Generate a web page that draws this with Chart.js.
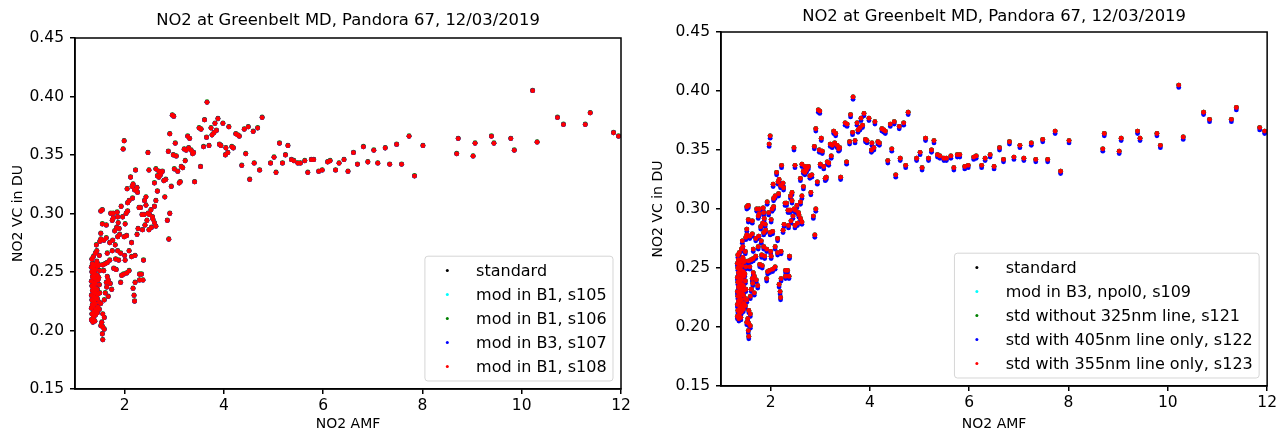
<!DOCTYPE html>
<html>
<head>
<meta charset="utf-8">
<script src="https://cdn.jsdelivr.net/npm/chart.js@4/dist/chart.umd.min.js"></script>
<style>
  body { margin: 0; background: #fff; }
  .plot { position: absolute; top: 0; width: 640px; height: 437px; }
</style>
</head>
<body>
<div class="plot" style="left:0"><canvas id="leftChart" width="640" height="437"></canvas></div>
<div class="plot" style="left:640px"><canvas id="rightChart" width="640" height="437"></canvas></div>
<script>
// ===================================================== DATA ===================================================== //

const title = "NO2 at Greenbelt MD, Pandora 67, 12/03/2019";
const xTicks = [2, 4, 6, 8, 10, 12];
const yTicks = [0.15, 0.20, 0.25, 0.30, 0.35, 0.40, 0.45];

const leftLabels  = ["standard", "mod in B1, s105", "mod in B1, s106", "mod in B3, s107", "mod in B1, s108"];
const rightLabels = ["standard", "mod in B3, npol0, s109", "std without 325nm line, s121",
                     "std with 405nm line only, s122", "std with 355nm line only, s123"];
const colors = ["#000000", "#00ffff", "#008000", "#0000ff", "#ff0000"];

// NO2 air mass factor (x) for every measurement
const amf = [
  10.22, 10.72, 10.84, 11.28, 11.38, 11.85, 11.95, 10.31, 9.85, 9.78,
  9.44, 9.39, 9.06, 9.02, 8.72, 8.69, 8.01, 7.84, 7.73, 7.58,
  7.48, 7.34, 7.25, 7.10, 7.02, 6.90, 6.81, 6.69, 6.61, 6.50,
  6.42, 6.32, 6.25, 6.14, 6.09, 5.98, 5.91, 5.81, 5.76, 5.69,
  5.63, 5.54, 5.49, 5.41, 5.36, 5.24, 5.29, 5.18, 5.12, 5.05,
  5.01, 4.94, 4.77, 4.72, 4.68, 4.61, 4.59, 4.52, 4.49, 4.44,
  4.41, 4.36, 4.31, 4.28, 4.24, 4.19, 4.16, 4.10, 4.08, 4.03,
  4.04, 3.98, 3.94, 3.91, 3.88, 3.85, 3.82, 3.80, 3.76, 3.74,
  3.70, 3.66, 3.65, 3.61, 3.59, 3.54, 3.50, 3.53, 3.41, 3.39,
  3.37, 3.34, 3.31, 3.27, 3.29, 3.24, 3.22, 3.20, 3.17, 3.14,
  3.10, 3.12, 3.07, 3.04, 3.02, 3.00, 2.98, 2.96, 2.99, 2.94,
  2.91, 2.91, 2.88, 2.89, 2.86, 2.81, 2.83, 2.79, 2.76, 2.72,
  2.74, 2.69, 2.63, 2.66, 2.69, 2.60, 2.66, 2.63, 2.60, 2.60,
  2.63, 2.57, 2.56, 2.54, 2.49, 2.47, 2.53, 2.50, 2.47, 2.45,
  2.49, 2.43, 2.40, 2.43, 2.39, 2.41, 2.35, 2.36, 2.32, 2.29,
  2.22, 2.25, 2.26, 2.20, 2.17, 2.15, 2.12, 2.16, 2.09, 2.06,
  2.05, 2.06, 2.03, 1.99, 1.97, 1.93, 1.96, 2.01, 2.04, 2.14,
  2.09, 2.14, 2.25, 2.27, 2.21, 2.38, 2.09, 2.04, 1.98, 1.94,
  1.92, 2.30, 2.34, 2.30, 2.37, 2.21, 2.17, 2.19, 2.20, 2.01,
  2.00, 1.99, 1.55, 1.52, 1.55, 1.63, 1.52, 1.63, 1.52, 1.58,
  1.50, 1.43, 1.44, 1.41, 1.49, 1.72, 1.77, 1.77, 1.85, 1.86,
  1.75, 1.87, 1.84, 1.89, 1.80, 1.86, 1.90, 1.76, 1.70, 1.81,
  1.75, 1.86, 1.92, 1.65, 1.70, 1.82, 1.88, 1.65, 1.78, 1.83,
  1.56, 1.61, 1.58, 1.65, 1.67, 1.63, 1.71, 1.64, 1.74, 1.61,
  1.67, 1.59, 1.52, 1.56, 1.59, 1.54, 1.56, 1.59, 1.55, 1.56, 1.52, 1.49,
  1.33, 1.34, 1.33, 1.35, 1.34, 1.33, 1.35, 1.34, 1.33, 1.35, 1.34, 1.33, 1.35, 1.34,
  1.37, 1.38, 1.37, 1.38, 1.37, 1.38, 1.37, 1.38, 1.37, 1.38, 1.37, 1.38, 1.37,
  1.41, 1.42, 1.41, 1.42, 1.41, 1.42, 1.41, 1.42, 1.41, 1.42, 1.41,
  1.45, 1.46, 1.45, 1.46, 1.45, 1.46, 1.45, 1.46, 1.44,
  1.49, 1.50, 1.49, 1.48, 1.50, 1.48, 1.36, 1.40
];

// NO2 vertical column in DU, standard processing (the other runs sit on top of it)
const vcStd = [
  0.405, 0.382, 0.376, 0.376, 0.386, 0.369, 0.366, 0.361, 0.354, 0.364,
  0.360, 0.366, 0.360, 0.349, 0.364, 0.351, 0.358, 0.332, 0.366, 0.342,
  0.359, 0.342, 0.356, 0.343, 0.354, 0.344, 0.357, 0.342, 0.352, 0.336,
  0.346, 0.343, 0.337, 0.345, 0.344, 0.337, 0.336, 0.346, 0.346, 0.335,
  0.345, 0.343, 0.343, 0.345, 0.346, 0.350, 0.358, 0.343, 0.360, 0.335,
  0.348, 0.343, 0.382, 0.337, 0.373, 0.343, 0.370, 0.329, 0.374, 0.351,
  0.372, 0.341, 0.366, 0.367, 0.368, 0.356, 0.357, 0.374, 0.352, 0.350,
  0.356, 0.377, 0.358, 0.359, 0.381, 0.371, 0.377, 0.369, 0.367, 0.373,
  0.358, 0.395, 0.365, 0.380, 0.357, 0.372, 0.373, 0.340, 0.327, 0.352,
  0.351, 0.354, 0.364, 0.366, 0.356, 0.354, 0.345, 0.355, 0.339, 0.340,
  0.326, 0.327, 0.336, 0.349, 0.360, 0.338, 0.350, 0.384, 0.383, 0.323,
  0.300, 0.368, 0.353, 0.278, 0.294, 0.314, 0.329, 0.328, 0.336, 0.333,
  0.335, 0.336, 0.338, 0.332, 0.331, 0.326, 0.319, 0.311, 0.306, 0.292,
  0.289, 0.295, 0.297, 0.288, 0.337, 0.352, 0.303, 0.299, 0.300, 0.294,
  0.286, 0.314, 0.311, 0.307, 0.299, 0.290, 0.299, 0.286, 0.305, 0.305,
  0.337, 0.322, 0.318, 0.320, 0.325, 0.323, 0.331, 0.313, 0.311, 0.309,
  0.321, 0.302, 0.300, 0.362, 0.355, 0.306, 0.297, 0.291, 0.281, 0.275,
  0.268, 0.263, 0.282, 0.287, 0.264, 0.260, 0.251, 0.249, 0.248, 0.247,
  0.241, 0.248, 0.248, 0.243, 0.243, 0.241, 0.236, 0.230, 0.225, 0.260,
  0.264, 0.280, 0.303, 0.302, 0.291, 0.290, 0.283, 0.279, 0.278, 0.277,
  0.276, 0.273, 0.268, 0.266, 0.264, 0.300, 0.300, 0.296, 0.301, 0.297,
  0.294, 0.292, 0.288, 0.287, 0.285, 0.280, 0.282, 0.277, 0.275, 0.273,
  0.268, 0.268, 0.266, 0.266, 0.260, 0.261, 0.260, 0.258, 0.253, 0.252,
  0.256, 0.257, 0.251, 0.246, 0.243, 0.241, 0.240, 0.237, 0.235, 0.232,
  0.229, 0.226, 0.223, 0.214, 0.211, 0.207, 0.203, 0.201, 0.197, 0.192, 0.204, 0.218,
  0.209, 0.214, 0.219, 0.222, 0.226, 0.230, 0.234, 0.238, 0.242, 0.246, 0.250, 0.254, 0.257, 0.261,
  0.211, 0.216, 0.221, 0.225, 0.229, 0.233, 0.237, 0.241, 0.245, 0.249, 0.253, 0.256, 0.263,
  0.213, 0.218, 0.223, 0.228, 0.232, 0.236, 0.240, 0.244, 0.248, 0.252, 0.256,
  0.215, 0.220, 0.227, 0.231, 0.235, 0.243, 0.247, 0.255, 0.259,
  0.224, 0.232, 0.239, 0.245, 0.251, 0.256, 0.207, 0.208
];

// s106 (left, green) reads a hair above the standard
const vcS106 = [
  0.4055, 0.3825, 0.3765, 0.3765, 0.3865, 0.3695, 0.3665, 0.3615, 0.3545, 0.3645,
  0.3605, 0.3665, 0.3605, 0.3495, 0.3645, 0.3515, 0.3585, 0.3325, 0.3665, 0.3425,
  0.3595, 0.3425, 0.3565, 0.3435, 0.3545, 0.3445, 0.3575, 0.3425, 0.3525, 0.3365,
  0.3465, 0.3435, 0.3375, 0.3455, 0.3445, 0.3375, 0.3365, 0.3465, 0.3465, 0.3355,
  0.3455, 0.3435, 0.3435, 0.3455, 0.3465, 0.3505, 0.3585, 0.3435, 0.3605, 0.3355,
  0.3485, 0.3435, 0.3825, 0.3375, 0.3735, 0.3435, 0.3705, 0.3295, 0.3745, 0.3515,
  0.3725, 0.3415, 0.3665, 0.3675, 0.3685, 0.3565, 0.3575, 0.3745, 0.3525, 0.3505,
  0.3565, 0.3775, 0.3585, 0.3595, 0.3815, 0.3715, 0.3775, 0.3695, 0.3675, 0.3735,
  0.3585, 0.3955, 0.3655, 0.3805, 0.3575, 0.3725, 0.3735, 0.3405, 0.3275, 0.3525,
  0.3515, 0.3545, 0.3645, 0.3665, 0.3565, 0.3545, 0.3455, 0.3555, 0.3395, 0.3405,
  0.3265, 0.3275, 0.3365, 0.3495, 0.3605, 0.3385, 0.3505, 0.3845, 0.3835, 0.3235,
  0.3005, 0.3685, 0.3535, 0.2785, 0.2945, 0.3145, 0.3295, 0.3285, 0.3365, 0.3335,
  0.3355, 0.3365, 0.3385, 0.3325, 0.3315, 0.3265, 0.3195, 0.3115, 0.3065, 0.2925,
  0.2895, 0.2955, 0.2975, 0.2885, 0.3375, 0.3525, 0.3035, 0.2995, 0.3005, 0.2945,
  0.2865, 0.3145, 0.3115, 0.3075, 0.2995, 0.2905, 0.2995, 0.2865, 0.3055, 0.3055,
  0.3375, 0.3225, 0.3185, 0.3205, 0.3255, 0.3235, 0.3315, 0.3135, 0.3115, 0.3095,
  0.3215, 0.3025, 0.3005, 0.3625, 0.3555, 0.3065, 0.2975, 0.2915, 0.2815, 0.2755,
  0.2685, 0.2635, 0.2825, 0.2875, 0.2645, 0.2605, 0.2515, 0.2495, 0.2485, 0.2475,
  0.2415, 0.2485, 0.2485, 0.2435, 0.2435, 0.2415, 0.2365, 0.2305, 0.2255, 0.2605,
  0.2645, 0.2805, 0.3035, 0.3025, 0.2915, 0.2905, 0.2835, 0.2795, 0.2785, 0.2775,
  0.2765, 0.2735, 0.2685, 0.2665, 0.2645, 0.3005, 0.3005, 0.2965, 0.3015, 0.2975,
  0.2945, 0.2925, 0.2885, 0.2875, 0.2855, 0.2805, 0.2825, 0.2775, 0.2755, 0.2735,
  0.2685, 0.2685, 0.2665, 0.2665, 0.2605, 0.2615, 0.2605, 0.2585, 0.2535, 0.2525,
  0.2565, 0.2575, 0.2515, 0.2465, 0.2435, 0.2415, 0.2405, 0.2375, 0.2355, 0.2325,
  0.2295, 0.2265, 0.2235, 0.2145, 0.2115, 0.2075, 0.2035, 0.2015, 0.1975, 0.1925, 0.2045, 0.2185,
  0.2095, 0.2145, 0.2195, 0.2225, 0.2265, 0.2305, 0.2345, 0.2385, 0.2425, 0.2465, 0.2505, 0.2545, 0.2575, 0.2615,
  0.2115, 0.2165, 0.2215, 0.2255, 0.2295, 0.2335, 0.2375, 0.2415, 0.2455, 0.2495, 0.2535, 0.2565, 0.2635,
  0.2135, 0.2185, 0.2235, 0.2285, 0.2325, 0.2365, 0.2405, 0.2445, 0.2485, 0.2525, 0.2565,
  0.2155, 0.2205, 0.2275, 0.2315, 0.2355, 0.2435, 0.2475, 0.2555, 0.2595,
  0.2245, 0.2325, 0.2395, 0.2455, 0.2515, 0.2565, 0.2075, 0.2085
];

// s122 (right, blue) reads a little below the standard
const vcS122 = [
  0.403, 0.380, 0.374, 0.374, 0.384, 0.367, 0.364, 0.359, 0.352, 0.362,
  0.358, 0.364, 0.358, 0.347, 0.362, 0.349, 0.356, 0.330, 0.364, 0.340,
  0.357, 0.340, 0.354, 0.341, 0.352, 0.342, 0.355, 0.340, 0.350, 0.334,
  0.344, 0.341, 0.335, 0.343, 0.342, 0.335, 0.334, 0.344, 0.344, 0.333,
  0.343, 0.341, 0.341, 0.343, 0.344, 0.348, 0.356, 0.341, 0.358, 0.333,
  0.346, 0.341, 0.380, 0.335, 0.371, 0.341, 0.368, 0.327, 0.372, 0.349,
  0.370, 0.339, 0.364, 0.365, 0.366, 0.354, 0.355, 0.372, 0.350, 0.348,
  0.354, 0.375, 0.356, 0.357, 0.379, 0.369, 0.375, 0.367, 0.365, 0.371,
  0.356, 0.393, 0.363, 0.378, 0.355, 0.370, 0.371, 0.338, 0.325, 0.350,
  0.349, 0.352, 0.362, 0.364, 0.354, 0.352, 0.343, 0.353, 0.337, 0.338,
  0.324, 0.325, 0.334, 0.347, 0.358, 0.336, 0.348, 0.382, 0.381, 0.321,
  0.298, 0.366, 0.351, 0.276, 0.292, 0.312, 0.327, 0.326, 0.334, 0.331,
  0.333, 0.334, 0.336, 0.330, 0.329, 0.324, 0.317, 0.309, 0.304, 0.290,
  0.287, 0.293, 0.295, 0.286, 0.335, 0.350, 0.301, 0.297, 0.298, 0.292,
  0.284, 0.312, 0.309, 0.305, 0.297, 0.288, 0.297, 0.284, 0.303, 0.303,
  0.335, 0.320, 0.316, 0.318, 0.323, 0.321, 0.329, 0.311, 0.309, 0.307,
  0.319, 0.300, 0.298, 0.360, 0.353, 0.304, 0.295, 0.289, 0.279, 0.273,
  0.266, 0.261, 0.280, 0.285, 0.262, 0.258, 0.249, 0.247, 0.246, 0.245,
  0.239, 0.246, 0.246, 0.241, 0.241, 0.239, 0.234, 0.228, 0.223, 0.258,
  0.262, 0.278, 0.301, 0.300, 0.289, 0.288, 0.281, 0.277, 0.276, 0.275,
  0.274, 0.271, 0.266, 0.264, 0.262, 0.298, 0.298, 0.294, 0.299, 0.295,
  0.292, 0.290, 0.286, 0.285, 0.283, 0.278, 0.280, 0.275, 0.273, 0.271,
  0.266, 0.266, 0.264, 0.264, 0.258, 0.259, 0.258, 0.256, 0.251, 0.250,
  0.254, 0.255, 0.249, 0.244, 0.241, 0.239, 0.238, 0.235, 0.233, 0.230,
  0.227, 0.224, 0.221, 0.212, 0.209, 0.205, 0.201, 0.199, 0.195, 0.190, 0.202, 0.216,
  0.207, 0.212, 0.217, 0.220, 0.224, 0.228, 0.232, 0.236, 0.240, 0.244, 0.248, 0.252, 0.255, 0.259,
  0.209, 0.214, 0.219, 0.223, 0.227, 0.231, 0.235, 0.239, 0.243, 0.247, 0.251, 0.254, 0.261,
  0.211, 0.216, 0.221, 0.226, 0.230, 0.234, 0.238, 0.242, 0.246, 0.250, 0.254,
  0.213, 0.218, 0.225, 0.229, 0.233, 0.241, 0.245, 0.253, 0.257,
  0.222, 0.230, 0.237, 0.243, 0.249, 0.254, 0.205, 0.206
];

// ==================================================== PLUGINS ==================================================== //

Chart.defaults.font.family = "'DejaVu Sans', sans-serif";
Chart.defaults.color = "#000";

// full box round the axes (matplotlib spines)
const frame = {
  id: "frame",
  afterDatasetsDraw(chart) {
    const {ctx, chartArea: a} = chart;
    ctx.save();
    ctx.strokeStyle = "#000";
    ctx.lineWidth = 1.5;
    ctx.strokeRect(a.left, a.top, a.width, a.height);
    ctx.restore();
  }
};

// title centred over the axes, not over the whole canvas
const axesTitle = {
  id: "axesTitle",
  afterDraw(chart, args, opts) {
    const {ctx, chartArea: a} = chart;
    ctx.save();
    ctx.font = opts.size + "px 'DejaVu Sans'";
    ctx.fillStyle = "#000";
    ctx.textAlign = "center";
    ctx.textBaseline = "middle";
    ctx.fillText(opts.text, (a.left + a.right) / 2, opts.y);
    ctx.restore();
  }
};

// matplotlib style legend in the lower right corner of the axes
const boxLegend = {
  id: "boxLegend",
  afterDraw(chart, args, opts) {
    const {ctx, chartArea: a} = chart;
    const fs = opts.fontSize, pad = 0.4 * fs, handle = 2 * fs, gap = 0.8 * fs, sp = 0.5 * fs;
    ctx.save();
    ctx.font = fs + "px 'DejaVu Sans'";
    const tw = Math.max(...opts.labels.map(t => ctx.measureText(t).width));
    const w = 2 * pad + handle + gap + tw;
    const h = 2 * pad + opts.labels.length * fs + (opts.labels.length - 1) * sp;
    const x0 = a.right - 0.5 * fs - w, y0 = a.bottom - 0.5 * fs - h;
    ctx.beginPath();
    ctx.roundRect(x0, y0, w, h, 3);
    ctx.fillStyle = "rgba(255,255,255,0.8)";
    ctx.fill();
    ctx.strokeStyle = "rgba(204,204,204,0.8)";
    ctx.lineWidth = 1;
    ctx.stroke();
    ctx.textBaseline = "middle";
    opts.labels.forEach((t, i) => {
      const cy = y0 + pad + i * (fs + sp) + fs / 2;
      ctx.fillStyle = opts.colors[i];
      ctx.beginPath();
      ctx.arc(x0 + pad + handle / 2, cy, 1.5, 0, 2 * Math.PI);
      ctx.fill();
      ctx.fillStyle = "#000";
      ctx.fillText(t, x0 + pad + handle + gap, cy + 1);
    });
    ctx.restore();
  }
};

// ===================================================== CHARTS ===================================================== //

const pts = ys => amf.map((x, i) => ({x, y: ys[i]}));

function makeChart(id, labels, series, lay) {
  // red is drawn last (on top), black first
  const datasets = labels.map((l, i) => ({
    label: l,
    data: pts(series[i]),
    backgroundColor: colors[i],
    borderWidth: 0,
    pointRadius: 2.4,
    order: labels.length - 1 - i
  }));
  return new Chart(document.getElementById(id), {
    type: "scatter",
    data: {datasets},
    plugins: [frame, axesTitle, boxLegend],
    options: {
      responsive: false,
      animation: false,
      devicePixelRatio: 1,
      layout: {padding: {left: 0, right: lay.padRight, top: lay.top, bottom: 0}},
      plugins: {
        legend: {display: false},
        tooltip: {enabled: false},
        title: {display: false},
        axesTitle: {text: title, size: 16.4, y: lay.titleY},
        boxLegend: {labels, colors, fontSize: 16}
      },
      scales: {
        x: {
          type: "linear", min: 1, max: 12,
          afterFit: s => { s.height = lay.xHeight; },
          afterBuildTicks: s => { s.ticks = xTicks.map(v => ({value: v})); },
          ticks: {font: {size: 15.5}, padding: 3, maxRotation: 0, autoSkip: false, color: "#000"},
          grid: {drawOnChartArea: false, color: "#000", lineWidth: 1.5, tickLength: 5},
          border: {color: "#000", width: 1.5},
          title: {display: true, text: "NO2 AMF", font: {size: 14}, padding: {top: 0, bottom: 4.6}}
        },
        y: {
          type: "linear", min: 0.15, max: 0.45,
          afterFit: s => { s.width = lay.yWidth; },
          afterBuildTicks: s => { s.ticks = yTicks.map(v => ({value: v})); },
          ticks: {font: {size: 15.5}, padding: 6, color: "#000", callback: v => v.toFixed(2)},
          grid: {drawOnChartArea: false, color: "#000", lineWidth: 1.5, tickLength: 5},
          border: {color: "#000", width: 1.5},
          title: {display: true, text: "NO2 VC in DU", font: {size: 14}, padding: {top: 10, bottom: 0}}
        }
      }
    }
  });
}

makeChart("leftChart", leftLabels, [vcStd, vcStd, vcS106, vcStd, vcStd],
  {padRight: 19, yWidth: 75, xHeight: 48, top: 38, titleY: 21});
makeChart("rightChart", rightLabels, [vcStd, vcStd, vcStd, vcS122, vcStd],
  {padRight: 10, yWidth: 81, xHeight: 51, top: 32, titleY: 16.5});
</script>
</body>
</html>
